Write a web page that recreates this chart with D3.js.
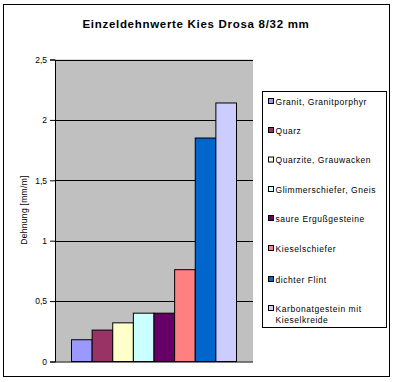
<!DOCTYPE html>
<html><head><meta charset="utf-8">
<script src="https://cdn.jsdelivr.net/npm/d3@7"></script>
<style>body{margin:0;background:#fff}svg{display:block;font-family:"Liberation Sans",Arial,sans-serif}</style>
</head><body><svg id="c" width="394" height="382"></svg>
<script>
const title = "Einzeldehnwerte Kies Drosa 8/32 mm";
const yLabel = "Dehnung [mm/m]";
const series = ["Granit, Granitporphyr","Quarz","Quarzite, Grauwacken","Glimmerschiefer, Gneis","saure Ergußgesteine","Kieselschiefer","dichter Flint","Karbonatgestein mit Kieselkreide"];
const values = [0.18, 0.26, 0.32, 0.40, 0.40, 0.76, 1.85, 2.14];
const colors = ["#9999FF","#993366","#FFFFCC","#CCFFFF","#660066","#FF8080","#0066CC","#CCCCFF"];
const yTicks = [0, 0.5, 1, 1.5, 2, 2.5];
const tickLabels = ["0","0,5","1","1,5","2","2,5"];

const svg = d3.select("#c");
svg.append("rect").attr("x",3.5).attr("y",4.5).attr("width",386).attr("height",372).attr("fill","#fff").attr("stroke","#000");

const L=55, R=253, T=59.5, B=361.5;
const y = d3.scaleLinear().domain([0,2.5]).range([B,T]);
const x0 = d3.scaleBand().domain([""]).range([L,R]).paddingOuter(0.1).paddingInner(0);
const x1 = d3.scaleBand().domain(series).range([x0(""), x0("")+x0.bandwidth()]).padding(0);

svg.append("rect").attr("x",L).attr("y",T).attr("width",R-L).attr("height",B-T).attr("fill","#C0C0C0");
svg.append("g").selectAll("line").data(yTicks.slice(1)).join("line")
  .attr("x1",L).attr("x2",R).attr("y1",d=>Math.round(y(d))+0.5).attr("y2",d=>Math.round(y(d))+0.5)
  .attr("stroke","#000").attr("stroke-width",1);

svg.append("g").selectAll("rect").data(values).join("rect")
  .attr("x",(d,i)=>x1(series[i])).attr("width",x1.bandwidth())
  .attr("y",d=>y(d)).attr("height",d=>B-y(d))
  .attr("fill",(d,i)=>colors[i]).attr("stroke","#000").attr("stroke-width",1);

const ya = d3.axisLeft(y).tickValues(yTicks).tickFormat((d,i)=>tickLabels[i]).tickSize(5).tickPadding(3);
const g = svg.append("g").attr("transform",`translate(${L},0)`).call(ya);
g.select(".domain").attr("stroke","#000");
g.selectAll("text").attr("font-size",8.5).attr("font-family","Liberation Sans, Arial").attr("fill","#000");
svg.append("line").attr("x1",L).attr("x2",R).attr("y1",B+0.5).attr("y2",B+0.5).attr("stroke","#000");

svg.append("text").attr("transform",`translate(27,210) rotate(-90)`).attr("text-anchor","middle")
  .attr("font-size",8.5).attr("letter-spacing",0.3).text(yLabel);

svg.append("text").attr("x",196).attr("y",28).attr("text-anchor","middle").attr("font-weight","bold")
  .attr("font-size",11.5).attr("letter-spacing",0.7).text(title);

// legend
const lg = svg.append("g");
lg.append("rect").attr("x",262.5).attr("y",91.5).attr("width",124).attr("height",236).attr("fill","#fff").attr("stroke","#000");
const ly = [101.5,130.5,160,189.5,218.5,248.5,279.5,308.5];
series.forEach((s,i)=>{
  lg.append("rect").attr("x",268.5).attr("y",ly[i]-3).attr("width",5).attr("height",5).attr("fill",colors[i]).attr("stroke","#000");
  const t = lg.append("text").attr("x",275.5).attr("y",ly[i]+3).attr("font-size",8.5).attr("letter-spacing",0.55);
  if(i===7){
    t.append("tspan").attr("x",275.5).text("Karbonatgestein mit");
    t.append("tspan").attr("x",275.5).attr("dy",11.5).text("Kieselkreide");
  } else t.text(s);
});
</script></body></html>
